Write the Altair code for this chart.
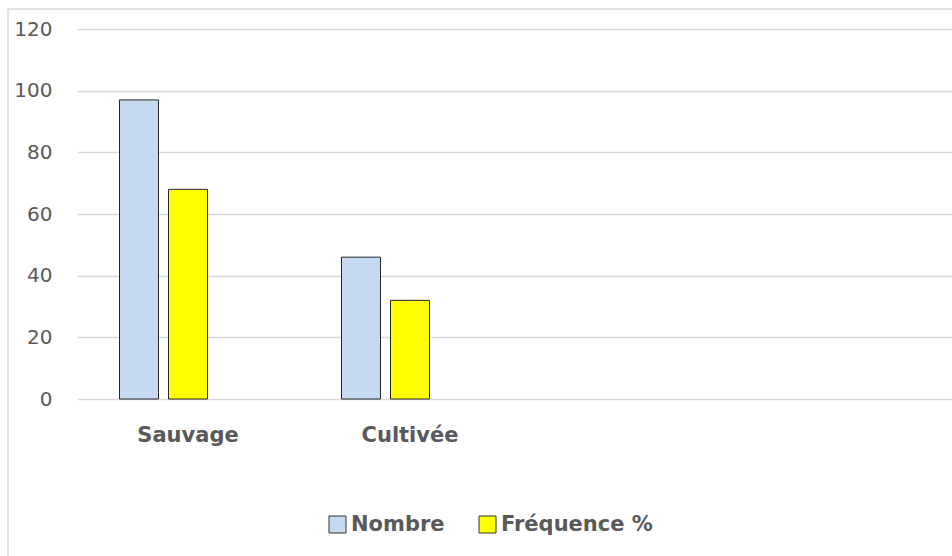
import altair as alt
import pandas as pd

# Plant origin vs. count and share
categories = ["Sauvage", "Cultivée"]
series = ["Nombre", "Fréquence %"]
nombre = [97, 46]
frequence = [68, 32]

# Category axis keeps two empty slots to the right, and each group
# reserves a third (unused) bar position, as in the original workbook.
x_domain = categories + [" ", "  "]
offset_domain = series + ["_"]
colors = ["#C6D9F1", "#FFFF00"]

rows = []
for cat, n, f in zip(categories, nombre, frequence):
    rows.append({"categorie": cat, "serie": series[0], "valeur": n})
    rows.append({"categorie": cat, "serie": series[1], "valeur": f})
df = pd.DataFrame(rows)

FONT = "DejaVu Sans"
GREY = "#595959"

bars = alt.Chart(df).mark_bar(stroke="#262626", strokeWidth=1).encode(
    x=alt.X(
        "categorie:N",
        sort=x_domain,
        scale=alt.Scale(domain=x_domain, range=[0, 888], paddingInner=0, paddingOuter=0),
        axis=alt.Axis(
            title=None,
            domain=False,
            ticks=False,
            labelAngle=0,
            labelFont=FONT,
            labelFontSize=21,
            labelFontWeight="bold",
            labelColor=GREY,
            labelPadding=25,
        ),
    ),
    xOffset=alt.XOffset(
        "serie:N",
        scale=alt.Scale(domain=offset_domain, paddingInner=0.204, paddingOuter=0.867),
    ),
    y=alt.Y(
        "valeur:Q",
        scale=alt.Scale(domain=[0, 120], nice=False),
        axis=alt.Axis(
            title=None,
            values=[0, 20, 40, 60, 80, 100, 120],
            domain=False,
            ticks=False,
            labelFont=FONT,
            labelFontSize=20,
            labelColor=GREY,
            labelPadding=25,
            gridColor="#d9d9d9",
            gridWidth=1.5,
        ),
    ),
    color=alt.Color(
        "serie:N",
        scale=alt.Scale(domain=series, range=colors),
        legend=alt.Legend(
            title=None,
            orient="none",
            legendX=250,
            legendY=485,
            direction="horizontal",
            symbolType="square",
            symbolSize=289,
            symbolStrokeColor="#333333",
            symbolStrokeWidth=1,
            labelFont=FONT,
            labelFontSize=21,
            labelFontWeight="bold",
            labelColor=GREY,
            labelOffset=3,
            columnPadding=32,
        ),
    ),
)

# Outer chart frame
frame = alt.Chart(alt.InlineData(values=[{"f": 1}])).mark_rect(
    fill="white", fillOpacity=0, stroke="#d9d9d9", strokeWidth=1.5
).encode(
    x=alt.value(-69),
    x2=alt.value(1400),
    y=alt.value(-20),
    y2=alt.value(900),
)

chart = alt.layer(frame, bars).properties(
    width=875,
    height=370,
    autosize=alt.AutoSizeParams(type="none"),
    padding={"left": 77, "top": 29, "right": 0, "bottom": 157},
    background="white",
).configure_view(stroke=None)

chart.save("out.html", embed_options={"renderer": "svg", "actions": False})
